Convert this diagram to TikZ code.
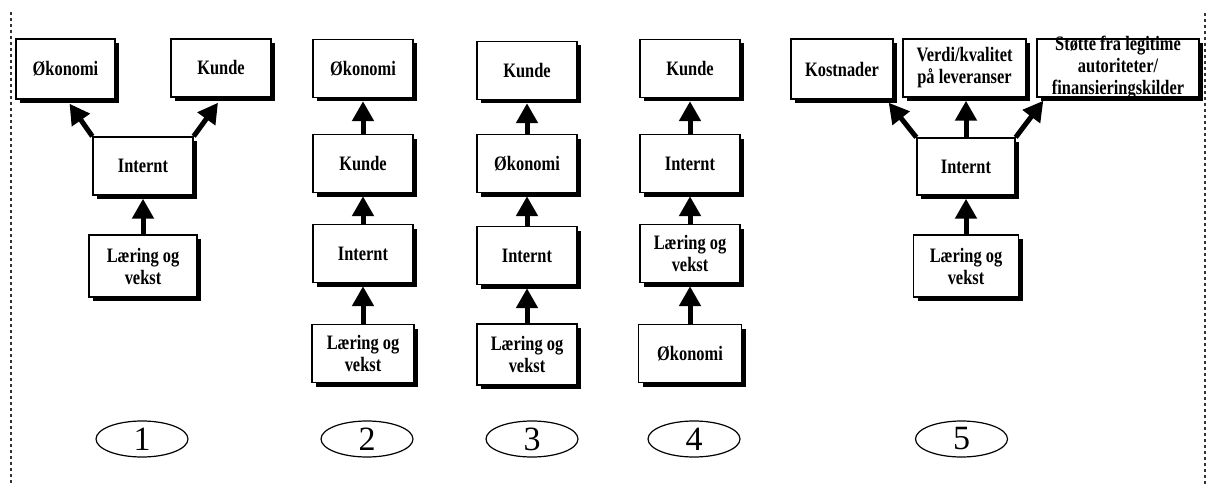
\documentclass[tikz,border=0pt]{standalone}
\usepackage{fontspec}
\setmainfont{Liberation Serif}
\newfontfamily\boxfont{Liberation Serif}[FakeStretch=0.8]
\usetikzlibrary{arrows.meta,shapes.geometric,shadows}
\begin{document}
\begin{tikzpicture}[x=1pt,y=-1pt,
  box/.style={draw,line width=1.4pt,fill=white,inner sep=0pt,
    minimum width=100pt,minimum height=58pt,align=center,
    font=\boxfont\fontsize{20.5}{22}\selectfont\bfseries,
    drop shadow={shadow xshift=4pt,shadow yshift=-4pt,fill=black,opacity=1}},
  arr/.style={line width=5pt,-{Triangle[width=21pt,length=20pt]}},
  num/.style={draw,ellipse,line width=1.2pt,inner sep=0pt,
    minimum width=92pt,minimum height=36pt,
    font=\fontsize{34}{34}\selectfont},
  border/.style={line width=1.5pt,dash pattern=on 3pt off 3pt,black!80}]
\useasboundingbox (0,0) rectangle (1209,484);

% page frame
\coordinate (bl1) at (11,12);
\coordinate (bl2) at (11,484);
\coordinate (br1) at (1205,13);
\coordinate (br2) at (1205,484);
\draw[border] (bl1) -- (bl2);
\draw[border] (br1) -- (br2);

% model 1
\node[box,minimum width=99pt,minimum height=60pt] (o1) at (65.5,69) {Økonomi};
\node[box] (k1) at (221,68) {Kunde};
\node[box] (i1) at (143,166) {Internt};
\node[box,minimum width=108pt,minimum height=62pt] (l1) at (143,266) {Læring og\\vekst};
\draw[arr] (i1.north west) -- ([xshift=4pt,yshift=-4pt]o1.south);
\draw[arr] (i1.north east) -- ([xshift=-3pt,yshift=-5pt]k1.south);
\draw[arr] (l1.north) -- ([yshift=-3pt]i1.south);

% model 2
\node[box] (o2) at (363,68.5) {Økonomi};
\node[box] (k2) at (363,163.5) {Kunde};
\node[box] (i2) at (363,253.5) {Internt};
\node[box,minimum width=102pt] (l2) at (363,353.5) {Læring og\\vekst};
\draw[arr] (k2.north) -- ([yshift=-3pt]o2.south);
\draw[arr] (i2.north) -- ([yshift=-3pt]k2.south);
\draw[arr] (l2.north) -- ([yshift=-3pt]i2.south);

% model 3
\node[box] (k3) at (527,70.5) {Kunde};
\node[box] (o3) at (527,163.5) {Økonomi};
\node[box] (i3) at (527,255.5) {Internt};
\node[box,minimum height=61pt] (l3) at (527,354.5) {Læring og\\vekst};
\draw[arr] (o3.north) -- ([yshift=-3pt]k3.south);
\draw[arr] (i3.north) -- ([yshift=-3pt]o3.south);
\draw[arr] (l3.north) -- ([yshift=-3pt]i3.south);

% model 4
\node[box] (k4) at (690,68.5) {Kunde};
\node[box] (i4) at (690,163.5) {Internt};
\node[box] (l4) at (690,253.5) {Læring og\\vekst};
\node[box,minimum width=103pt] (o4) at (690,353.5) {Økonomi};
\draw[arr] (i4.north) -- ([yshift=-3pt]k4.south);
\draw[arr] (l4.north) -- ([yshift=-3pt]i4.south);
\draw[arr] (o4.north) -- ([yshift=-3pt]l4.south);

% model 5
\node[box,minimum width=102pt,minimum height=60pt] (c5) at (842,69) {Kostnader};
\node[box,minimum width=123pt] (v5) at (964.5,68) {Verdi/kvalitet\\på leveranser};
\node[box,minimum width=162pt,inner ysep=-4pt] (s5) at (1118,68) {Støtte fra legitime\\autoriteter/\\finansieringskilder};
\node[box,minimum width=98pt,minimum height=57pt] (i5) at (966,166.5) {Internt};
\node[box,minimum width=105pt,minimum height=62pt] (l5) at (966,266) {Læring og\\vekst};
\draw[arr] (i5.north west) -- ([xshift=-5pt,yshift=-3pt]c5.south east);
\draw[arr] (i5.north) -- ([yshift=-3pt]i5.north |- v5.south);
\draw[arr] (i5.north east) -- ([xshift=7pt,yshift=-3pt]s5.south west);
\draw[arr] (l5.north) -- ([yshift=-3pt]i5.south);

% model numbers
\node[num] (n1) at (142,439) {1};
\node[num] (n2) at (367,439) {2};
\node[num] (n3) at (532,439) {3};
\node[num] (n4) at (694,439) {4};
\node[num] (n5) at (961.5,439) {5};
\end{tikzpicture}
\end{document}
